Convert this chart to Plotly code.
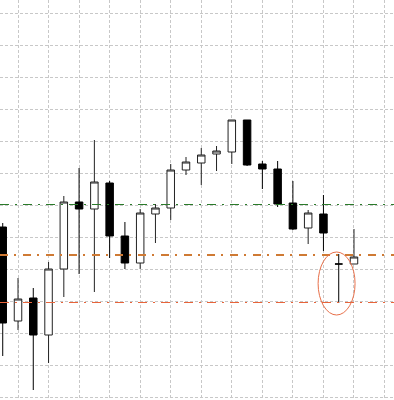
import plotly.graph_objects as go

idx = list(range(24))
opens  = [173, 79, 102, 65, 131, 198, 191, 217, 164, 137, 186, 192, 230, 237, 246, 248, 280, 236, 231, 197, 172, 186, 136, 136]
highs  = [177, 122, 112, 138, 204, 232, 260, 219, 178, 191, 196, 236, 243, 252, 254, 280, 280, 239, 239, 219, 190, 205, 146, 171]
lows   = [44, 70, 10, 37, 103, 126, 108, 142, 131, 131, 157, 180, 225, 215, 229, 236, 234, 211, 193, 170, 156, 149, 97, 136]
closes = [77, 101, 65, 131, 198, 191, 218, 164, 137, 187, 192, 230, 238, 245, 249, 280, 235, 231, 196, 171, 187, 167, 136, 143]

level_green = 195.5
level_orange = 145
level_red = 97.5

fig = go.Figure()
fig.add_trace(go.Candlestick(
    x=idx, open=opens, high=highs, low=lows, close=closes,
    increasing=dict(line=dict(color="#222222", width=1), fillcolor="#ffffff"),
    decreasing=dict(line=dict(color="#000000", width=1), fillcolor="#000000"),
    whiskerwidth=0, showlegend=False, hoverinfo="skip",
))

fig.add_hline(y=level_green, line=dict(color="#2a7a2a", width=1, dash="9px,6px,2px,6px"))
fig.add_hline(y=level_orange, line=dict(color="#cf7a34", width=2, dash="8px,6px,2px,7px"))
fig.add_hline(y=level_red, line=dict(color="#e8643a", width=1, dash="9px,6px,2px,6px"))

fig.add_shape(type="circle", xref="x", yref="y", x0=20.65, x1=23.07, y0=85, y1=148,
              line=dict(color="#e8704a", width=1))

fig.update_layout(
    width=394, height=400, margin=dict(l=0, r=0, t=0, b=0),
    paper_bgcolor="white", plot_bgcolor="white",
    xaxis=dict(range=[-0.179, 25.62], showticklabels=False, zeroline=False, showline=False,
               rangeslider=dict(visible=False), tick0=1, dtick=2,
               showgrid=True, gridcolor="#c8c8c8", griddash="3px,2px", gridwidth=1, ticks=""),
    yaxis=dict(range=[0, 400], showticklabels=False, zeroline=False, showline=False,
               tick0=2.5, dtick=32, showgrid=True, gridcolor="#c8c8c8", griddash="3px,2px",
               gridwidth=1, ticks=""),
)

fig.write_html("out.html")
